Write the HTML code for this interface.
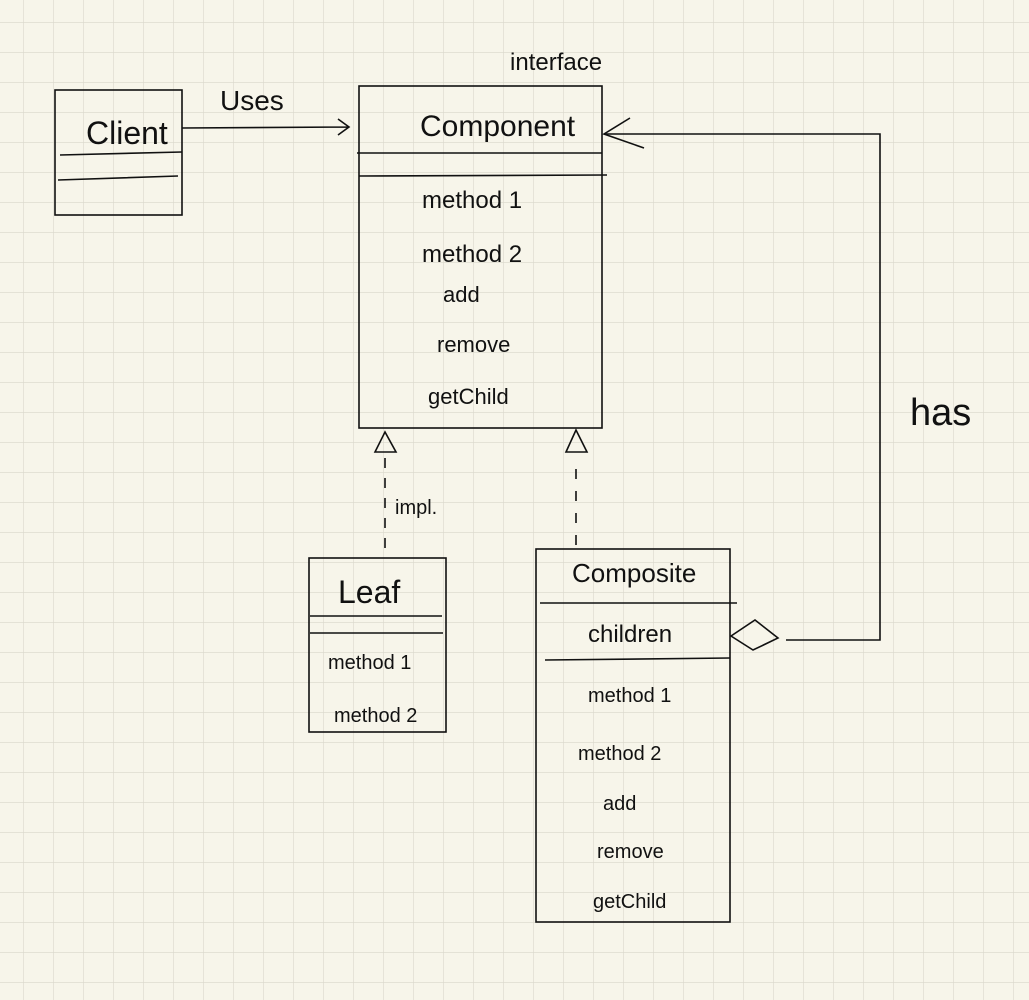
<!DOCTYPE html>
<html><head><meta charset="utf-8"><style>
html,body{margin:0;padding:0;background:#f7f5ea;}
svg{display:block}
text{font-family:"Liberation Sans",sans-serif;fill:#111;}
</style></head><body>
<svg width="1029" height="1000" viewBox="0 0 1029 1000" xmlns="http://www.w3.org/2000/svg">
<defs>
<pattern id="g" x="23" y="22" width="30" height="30" patternUnits="userSpaceOnUse">
<path d="M0 0H30M0 0V30" stroke="#d9d7cb" stroke-width="1.2" fill="none"/>
</pattern>
</defs>
<rect width="1029" height="1000" fill="#f7f5ea"/>
<rect width="1029" height="1000" fill="url(#g)"/>
<g stroke="#111" stroke-width="1.6" fill="none">
<rect x="55" y="90" width="127" height="125"/>
<path d="M60 155L182 152M58 180L178 176"/>
<path d="M182 128L348 127M338 119L349 127L338 135"/>
<rect x="359" y="86" width="243" height="342"/>
<path d="M357 153L602 153M359 176L607 175"/>
<path d="M604 134L880 134L880 640L786 640"/>
<path d="M630 118L604 134L644 148"/>
<path d="M731 636L755 620L778 638L753 650Z"/>
<rect x="309" y="558" width="137" height="174"/>
<path d="M310 616L442 616M310 633L443 633"/>
<rect x="536" y="549" width="194" height="373"/>
<path d="M540 603L737 603M545 660L730 658"/>
<path d="M385 548L385 456" stroke-dasharray="10,10"/>
<path d="M375 452L385 432L396 452Z"/>
<path d="M576 545L576 460" stroke-dasharray="10,12"/>
<path d="M566 452L576 430L587 452Z"/>
</g>
<g font-size="28">
<text x="86" y="144" font-size="32">Client</text>
<text x="220" y="110" font-size="28">Uses</text>
<text x="510" y="70" font-size="24">interface</text>
<text x="420" y="136" font-size="30">Component</text>
<text x="422" y="208" font-size="24">method 1</text>
<text x="422" y="262" font-size="24">method 2</text>
<text x="443" y="302" font-size="22">add</text>
<text x="437" y="352" font-size="22">remove</text>
<text x="428" y="404" font-size="22">getChild</text>
<text x="395" y="514" font-size="20">impl.</text>
<text x="338" y="603" font-size="32">Leaf</text>
<text x="328" y="669" font-size="20">method 1</text>
<text x="334" y="722" font-size="20">method 2</text>
<text x="572" y="582" font-size="26">Composite</text>
<text x="588" y="642" font-size="24">children</text>
<text x="588" y="702" font-size="20">method 1</text>
<text x="578" y="760" font-size="20">method 2</text>
<text x="603" y="810" font-size="20">add</text>
<text x="597" y="858" font-size="20">remove</text>
<text x="593" y="908" font-size="20">getChild</text>
<text x="910" y="425" font-size="38">has</text>
</g>
</svg>
</body></html>
